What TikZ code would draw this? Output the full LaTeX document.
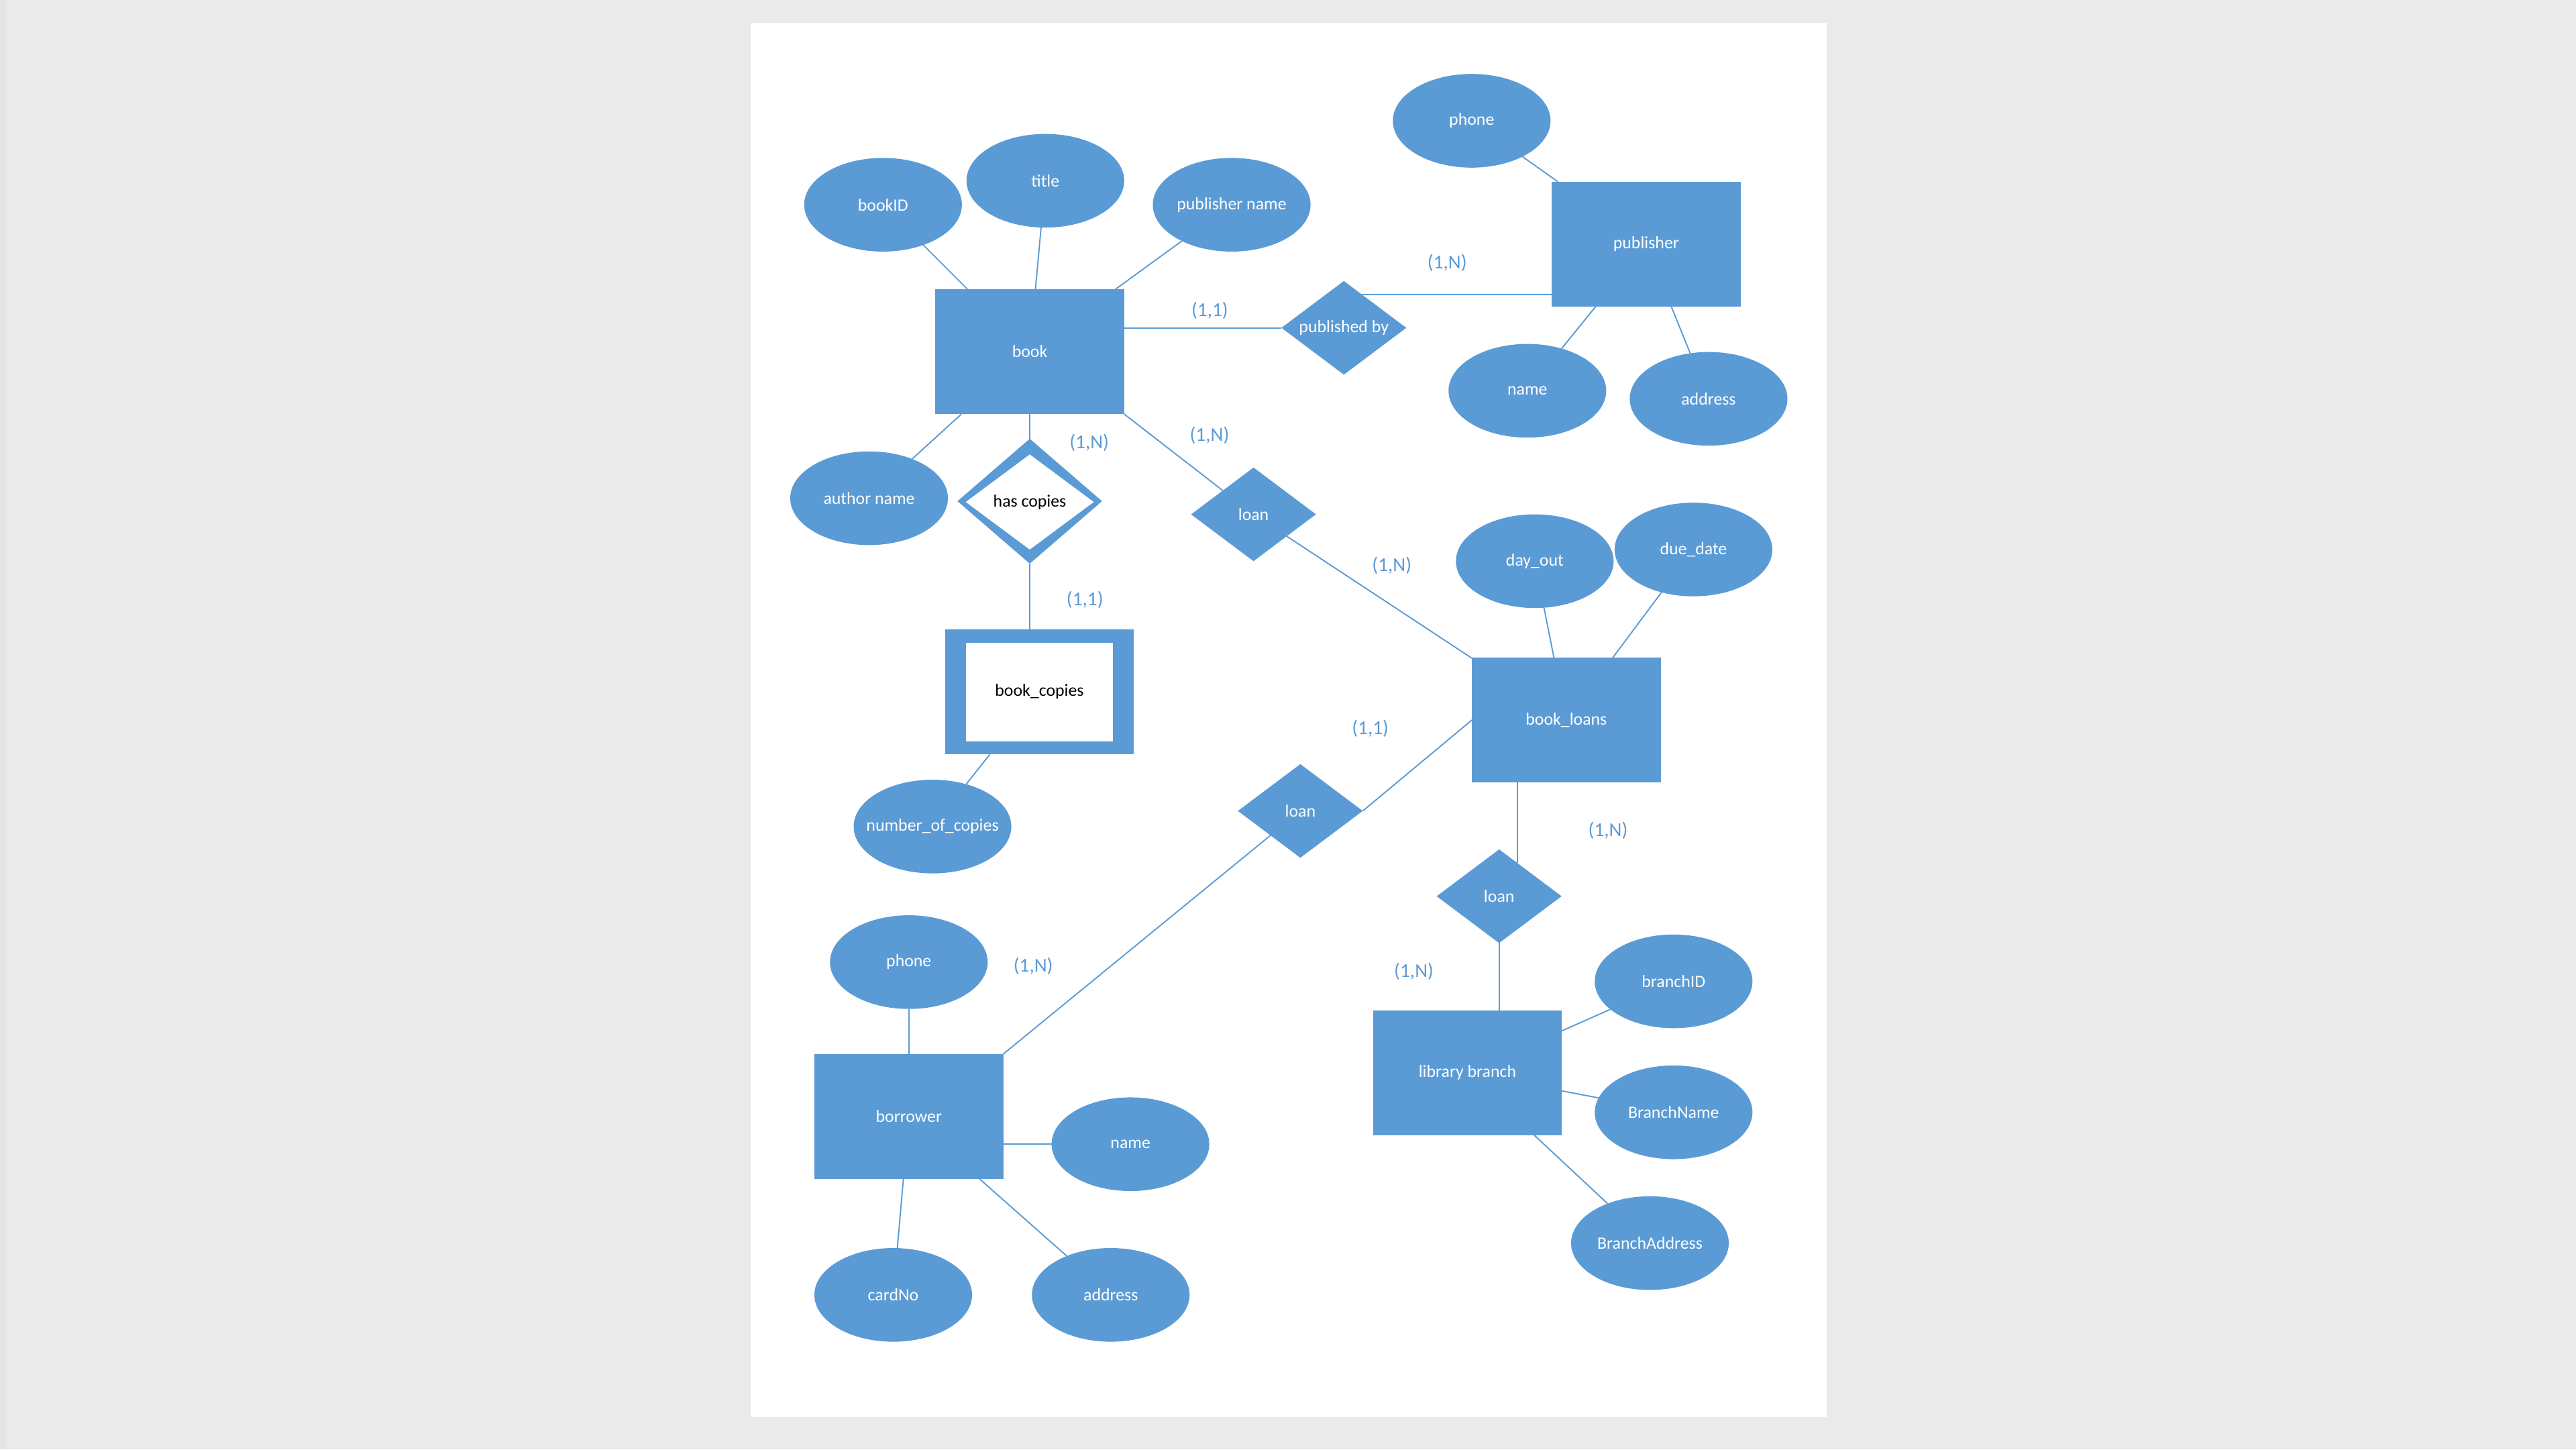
\documentclass[tikz,border=0pt]{standalone}
\usepackage{fontspec}
\setmainfont{Carlito}
\usetikzlibrary{shapes.geometric}
\definecolor{erblue}{HTML}{5B9BD5}
\definecolor{deskgray}{HTML}{EAEAEA}
\definecolor{edgegray}{HTML}{E4E4E4}

\begin{document}
\begin{tikzpicture}[x=0.05cm, y=-0.05cm,
		entity/.style={rectangle, fill=erblue, text=white, minimum width=5.75cm, minimum height=3.8cm, inner sep=0pt, outer sep=0pt, font=\fontsize{15}{18}\selectfont},
		attr/.style={ellipse, fill=erblue, text=white, minimum width=4.8cm, minimum height=2.85cm, inner sep=0pt, outer sep=0pt, font=\fontsize{15}{18}\selectfont},
		rel/.style={diamond, shape aspect=1.33, fill=erblue, text=white, minimum width=3.8cm, minimum height=2.85cm, inner sep=0pt, outer sep=0pt, font=\fontsize{15}{18}\selectfont},
		card/.style={text=erblue, font=\fontsize{17}{20}\selectfont},
		link/.style={draw=erblue, line width=1.1pt}]
		\useasboundingbox (0,0) rectangle (1568,882);
		\fill[deskgray] (0,0) rectangle (1568,882);
		\fill[edgegray] (0,0) rectangle (4,882);
		\fill[white] (457,14) rectangle (1112,862.3);
		
		\node[entity] (book) at (626.8,214) {book};
		\node[entity] (publisher) at (1002,148.6) {publisher};
		\node[entity] (bookloans) at (953.4,438.2) {book\_loans};
		\node[entity] (borrower) at (553.2,679.4) {borrower};
		\node[entity] (libbranch) at (893.2,652.8) {library branch};
		\node[entity] (bookcopies) at (632.7,421) {};
		\node[fill=white, minimum width=4.475cm, minimum height=3cm, inner sep=0pt, font=\fontsize{15}{18}\selectfont] (bookcopiesin) at (632.7,421) {book\_copies};
		
		\node[attr] (bookid) at (537.5,124.6) {bookID};
		\node[attr] (title) at (636.3,110) {title};
		\node[attr] (pubname) at (749.7,124.6) {publisher name};
		\node[attr] (authname) at (529,303.2) {author name};
		\node[attr] (pubphone) at (895.8,73.5) {phone};
		\node[attr] (pubnm) at (929.7,237.8) {name};
		\node[attr] (pubaddr) at (1040,242.7) {address};
		\node[attr, inner xsep=-0.5cm] (nocopies) at (567.6,503) {number\_of\_copies};
		\node[attr] (dayout) at (934.2,341.5) {day\_out};
		\node[attr] (duedate) at (1030.8,334.4) {due\_date};
		\node[attr] (branchid) at (1018.7,597.2) {branchID};
		\node[attr] (branchname) at (1018.7,676.9) {BranchName};
		\node[attr] (branchaddr) at (1004.3,756.5) {BranchAddress};
		\node[attr] (borphone) at (553.2,585.5) {phone};
		\node[attr] (bornm) at (688.1,696.3) {name};
		\node[attr] (cardno) at (543.7,788) {cardNo};
		\node[attr] (boraddr) at (676.1,788) {address};
		
		\node[rel] (pubby) at (818,199.5) {published by};
		\node[rel] (loana) at (763,313) {loan};
		\node[rel] (loanb) at (791.5,493.5) {loan};
		\node[rel] (loanc) at (912.5,545.4) {loan};
		\node[rel, minimum width=4.4cm, minimum height=3.8cm] (hascopies) at (626.8,305) {};
		\node[diamond, shape aspect=1.33, fill=white, minimum width=3.9cm, minimum height=2.9cm, inner sep=0pt, font=\fontsize{15}{18}\selectfont] (hascopiesin) at (626.8,305.5) {has copies};
		
		\draw[link] (bookid) -- (book);
		\draw[link] (title) -- (book);
		\draw[link] (pubname) -- (book);
		\draw[link] (authname) -- (book);
		\draw[link] (pubby.west) -- (pubby.west -| book.east);
		\draw[link] (pubby.62) -- (pubby.62 -| publisher.west);
		\draw[link] (pubphone) -- (publisher);
		\draw[link] (pubnm) -- (publisher);
		\draw[link] (pubaddr) -- (publisher);
		\draw[link] (book) -- (hascopies);
		\draw[link] (hascopies) -- (hascopies |- bookcopies.north);
		\draw[link] (nocopies) -- (bookcopies);
		\draw[link] (book.south east) -- (loana);
		\draw[link] (loana) -- (bookloans);
		\draw[link] (dayout) -- (bookloans);
		\draw[link] (duedate) -- (bookloans);
		\draw[link] (loanb.east) -- (bookloans.west);
		\draw[link] (loanb) -- (borrower.north east);
		\draw[link] (loanc.61 |- bookloans.south) -- (loanc.61);
		\draw[link] (loanc.south) -- (loanc.south |- libbranch.north);
		\draw[link] (branchid) -- (libbranch);
		\draw[link] (branchname) -- (libbranch);
		\draw[link] (branchaddr) -- (libbranch);
		\draw[link] (borphone) -- (borrower);
		\draw[link] (bornm) -- (borrower.east |- bornm);
		\draw[link] (cardno) -- (borrower);
		\draw[link] (boraddr) -- (borrower);
		
		\node[card] (c1) at (736.4,188.9) {(1,1)};
		\node[card] (c2) at (880.9,160) {(1,N)};
		\node[card] (c3) at (663,269.6) {(1,N)};
		\node[card] (c4) at (736.2,264.9) {(1,N)};
		\node[card] (c5) at (660.4,365) {(1,1)};
		\node[card] (c6) at (847.2,344.3) {(1,N)};
		\node[card] (c7) at (834.1,443.2) {(1,1)};
		\node[card] (c8) at (978.8,505.3) {(1,N)};
		\node[card] (c9) at (628.9,588) {(1,N)};
		\node[card] (c10) at (860.6,591.1) {(1,N)};
\end{tikzpicture}
\end{document}
